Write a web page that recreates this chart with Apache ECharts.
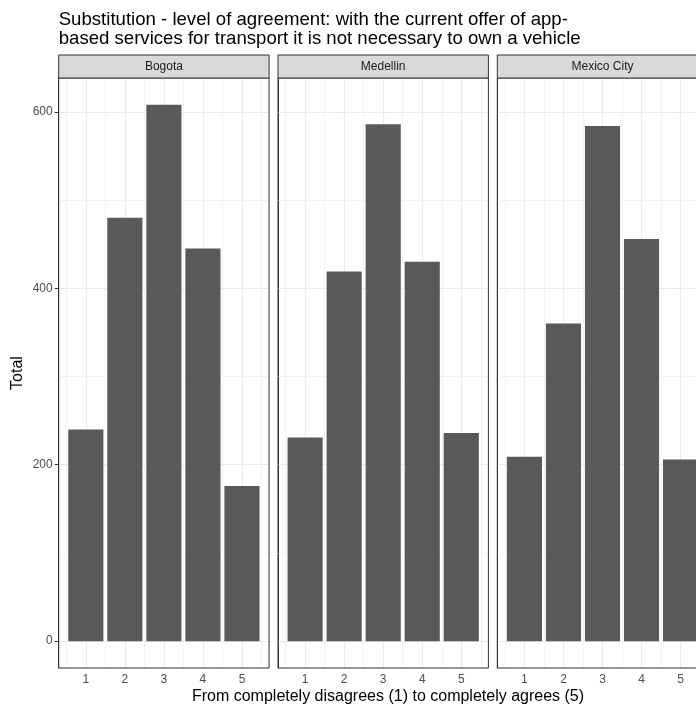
<!DOCTYPE html>
<html>
<head>
<meta charset="utf-8">
<script src="https://cdn.jsdelivr.net/npm/echarts@6/dist/echarts.min.js"></script>
<style>
  html, body { margin: 0; padding: 0; background: #ffffff; }
  #chart { width: 696px; height: 705px; }
</style>
</head>
<body>
<div id="chart"></div>
<script>
// Survey answers per city: counts for each agreement level 1..5
const cities = ['Bogota', 'Medellin', 'Mexico City'];
const levels = [1, 2, 3, 4, 5];
const bogota = [240, 480, 608, 445, 176];
const medellin = [231, 419, 586, 430, 236];
const mexicoCity = [209, 360, 584, 456, 206];
const yTicks = [0, 200, 400, 600];
const yMinorTicks = [100, 300, 500];

const seriesValues = [bogota, medellin, mexicoCity];

// Facet layout
const FONT = '"Liberation Sans", Arial, sans-serif';
const PANEL_LEFT = 58.7;
const PANEL_PITCH = 219.3;
const PANEL_W = 210.4;
const PANEL_TOP = 78;
const PANEL_H = 590;
const STRIP_H = 23;

// Continuous scales with 5% padding (bars are 0.9 wide)
const allValues = [].concat(bogota, medellin, mexicoCity);
const yMaxData = Math.max.apply(null, allValues);
const yMin = -0.05 * yMaxData;
const yMax = 1.05 * yMaxData;
const barHalf = 0.45;
const xSpan = (levels[levels.length - 1] + barHalf) - (levels[0] - barHalf);
const xMin = levels[0] - barHalf - 0.05 * xSpan;
const xMax = levels[levels.length - 1] + barHalf + 0.05 * xSpan;
const barPx = 0.9 * PANEL_W / (xMax - xMin);

const majorLine = { color: '#EBEBEB', width: 1.1, type: 'solid' };
const minorLine = { color: '#F3F3F3', width: 1, type: 'solid' };

function gridLines() {
  const d = [];
  levels.forEach(function (v) { d.push({ xAxis: v, lineStyle: majorLine }); });
  [levels[0] - 0.5].concat(levels.map(function (v) { return v + 0.5; }))
    .forEach(function (v) { d.push({ xAxis: v, lineStyle: minorLine }); });
  yTicks.forEach(function (v) { d.push({ yAxis: v, lineStyle: majorLine }); });
  yMinorTicks.forEach(function (v) { d.push({ yAxis: v, lineStyle: minorLine }); });
  return d;
}

const grids = [], xAxes = [], yAxes = [], series = [], graphics = [];

cities.forEach(function (city, i) {
  const left = PANEL_LEFT + i * PANEL_PITCH;
  grids.push({
    left: left, top: PANEL_TOP, width: PANEL_W, height: PANEL_H,
    containLabel: false, outerBoundsMode: 'none'
  });

  xAxes.push({
    type: 'value', gridIndex: i, min: xMin, max: xMax,
    splitLine: { show: false },
    axisLine: { show: true, lineStyle: { color: '#333333', width: 1 } },
    axisTick: { show: true, customValues: levels, length: 4, lineStyle: { color: '#333333' } },
    axisLabel: { customValues: levels, color: '#4D4D4D', fontSize: 12, fontFamily: FONT, margin: 6 }
  });

  const yAxis = {
    type: 'value', gridIndex: i, min: yMin, max: yMax,
    splitLine: { show: false },
    axisLine: { show: true, lineStyle: { color: '#333333', width: 1 } },
    axisTick: { show: i === 0, customValues: yTicks, length: 4, lineStyle: { color: '#333333' } },
    axisLabel: { show: i === 0, customValues: yTicks, color: '#4D4D4D', fontSize: 12, fontFamily: FONT, margin: 6 }
  };
  if (i === 0) {
    yAxis.name = 'Total';
    yAxis.nameLocation = 'middle';
    yAxis.nameGap = 33;
    yAxis.nameTextStyle = { color: '#000000', fontSize: 16, fontFamily: FONT };
  }
  yAxes.push(yAxis);

  series.push({
    type: 'bar', name: city, xAxisIndex: i, yAxisIndex: i, z: 10,
    barWidth: barPx,
    itemStyle: { color: '#595959' },
    data: levels.map(function (lv, k) { return [lv, seriesValues[i][k]]; }),
    markLine: {
      silent: true, z: 1, symbol: 'none', animation: false,
      label: { show: false },
      emphasis: { disabled: true },
      data: gridLines()
    }
  });

  // panel border
  graphics.push({
    type: 'rect', z: 100, silent: true,
    shape: { x: left, y: PANEL_TOP, width: PANEL_W, height: PANEL_H },
    style: { fill: 'none', stroke: '#333333', lineWidth: 1 }
  });
  // facet strip
  graphics.push({
    type: 'rect', z: 100, silent: true,
    shape: { x: left, y: PANEL_TOP - STRIP_H, width: PANEL_W, height: STRIP_H },
    style: { fill: '#D9D9D9', stroke: '#333333', lineWidth: 1 }
  });
  graphics.push({
    type: 'text', z: 101, silent: true,
    x: left + PANEL_W / 2, y: PANEL_TOP - STRIP_H / 2,
    style: { text: city, fill: '#1A1A1A', font: '12px ' + FONT, align: 'center', verticalAlign: 'middle' }
  });
});

// shared x-axis title under the facets
graphics.push({
  type: 'text', z: 101, silent: true,
  x: 388, y: 697,
  style: {
    text: 'From completely disagrees (1) to completely agrees (5)',
    fill: '#000000', font: '16px ' + FONT, align: 'center', verticalAlign: 'middle'
  }
});

const chart = echarts.init(document.getElementById('chart'), null, { renderer: 'canvas' });
chart.setOption({
  animation: false,
  backgroundColor: '#ffffff',
  textStyle: { fontFamily: FONT },
  title: {
    text: 'Substitution - level of agreement: with the current offer of app-\nbased services for transport it is not necessary to own a vehicle',
    left: PANEL_LEFT, top: 10, padding: 0,
    textStyle: { fontSize: 18.6, fontWeight: 'normal', color: '#000000', lineHeight: 19, fontFamily: FONT }
  },
  grid: grids,
  xAxis: xAxes,
  yAxis: yAxes,
  series: series,
  graphic: graphics
});
</script>
</body>
</html>
